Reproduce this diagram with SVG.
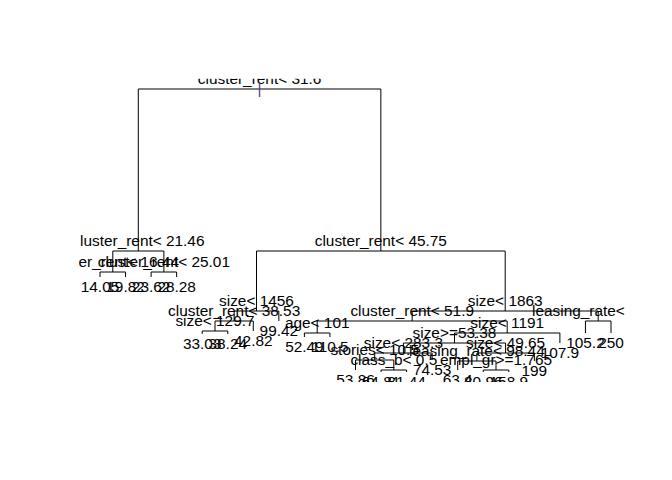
<svg xmlns="http://www.w3.org/2000/svg" width="672" height="480" viewBox="0 0 672 480">
<defs>
<clipPath id="plot"><rect x="78.7" y="78.7" width="553" height="303.4"/></clipPath>
</defs>
<style>
text{font-family:"Liberation Sans",Arial,sans-serif;font-size:15.4px;fill:#000;text-anchor:middle}
.e{text-anchor:end}
.s{text-anchor:start}
.br{fill:none;stroke:#000;stroke-width:1}
.mk{fill:#4a3c8c}
</style>
<rect width="672" height="480" fill="#fff"/>
<g id="connectors" class="br">
<path d="M138.3 251V89H380.85V251"/>
<path d="M112.8 272V251H163.9V272"/>
<path d="M100 277V272H125.55V277"/>
<path d="M151.1 277V272H176.65V277"/>
<path d="M256.5 311V251H505.2V311"/>
<path d="M234.15 321V311H278.85V321"/>
<path d="M215 331V321H253.3V331"/>
<path d="M202.2 334V331H227.75V334"/>
<path d="M412.2 321V311H598.2V321"/>
<path d="M317.2 333V321H507.2V333"/>
<path d="M304.4 337V333H329.95V337"/>
<path d="M585.45 333V321H611V333"/>
<path d="M454.5 343V333H559.9V343"/>
<path d="M403.4 353V343H505.6V353"/>
<path d="M374.7 360V353H432.15V360"/>
<path d="M355.5 370V360H393.8V370"/>
<path d="M381.05 372V370H406.6V372"/>
<path d="M476.9 361V353H534.35V361"/>
<path d="M457.7 370V361H496V370"/>
<path d="M483.25 372V370H508.8V372"/>
</g>
<g clip-path="url(#plot)">
<g id="n1"><text x="259.6" y="84">cluster_rent&lt; 31.6</text><text class="mk" x="259.6" y="94">|</text></g>
<g id="n2"><text class="e" x="204.5" y="246">luster_rent&lt; 21.46</text></g>
<g id="n3"><text x="380.85" y="246">cluster_rent&lt; 45.75</text></g>
<g id="n4"><text class="e" x="179" y="267">er_rent&lt; 16.44</text></g>
<g id="n5"><text x="163.9" y="267">cluster_rent&lt; 25.01</text></g>
<g id="n6"><text x="256.5" y="306">size&lt; 1456</text></g>
<g id="n7"><text x="505.2" y="306">size&lt; 1863</text></g>
<g id="n12"><text x="234.15" y="316">cluster_rent&lt; 38.53</text></g>
<g id="n14"><text x="412.2" y="316">cluster_rent&lt; 51.9</text></g>
<g id="n15"><text class="s" x="532" y="316">leasing_rate&lt;</text></g>
<g id="n24"><text x="215" y="326">size&lt; 129.7</text></g>
<g id="n28"><text x="317.2" y="328">age&lt; 101</text></g>
<g id="n29"><text x="507.2" y="328">size&lt; 1191</text></g>
<g id="n58"><text x="454.5" y="338">size&gt;=53.38</text></g>
<g id="n116"><text x="403.4" y="348">size&lt; 283.3</text></g>
<g id="n117"><text x="505.6" y="348">size&lt; 49.65</text></g>
<g id="n232"><text x="374.7" y="355">stories&lt; 10.5</text></g>
<g id="n234"><text x="476.9" y="356">leasing_rate&lt; 98.44</text></g>
<g id="n465"><text x="393.8" y="365">class_b&lt; 0.5</text></g>
<g id="n469"><text x="496" y="365">empl_gr&gt;=1.765</text></g>
<g id="leaf1"><text x="100" y="292">14.05</text></g>
<g id="leaf2"><text x="125.55" y="292">19.82</text></g>
<g id="leaf3"><text x="151.1" y="292">23.62</text></g>
<g id="leaf4"><text x="176.65" y="292">28.28</text></g>
<g id="leaf5"><text x="202.2" y="349">33.03</text></g>
<g id="leaf6"><text x="227.75" y="349">38.24</text></g>
<g id="leaf7"><text x="253.3" y="346">42.82</text></g>
<g id="leaf8"><text x="278.85" y="336">99.42</text></g>
<g id="leaf9"><text x="304.4" y="352">52.49</text></g>
<g id="leaf10"><text x="329.95" y="352">110.5</text></g>
<g id="leaf11"><text x="355.5" y="385">53.86</text></g>
<g id="leaf12"><text x="381.05" y="387">64.81</text></g>
<g id="leaf13"><text x="406.6" y="387">81.44</text></g>
<g id="leaf14"><text x="432.15" y="375">74.53</text></g>
<g id="leaf15"><text x="457.7" y="385">63.4</text></g>
<g id="leaf16"><text x="483.25" y="387">80.96</text></g>
<g id="leaf17"><text x="508.8" y="387">158.9</text></g>
<g id="leaf18"><text x="534.35" y="376">199</text></g>
<g id="leaf19"><text x="559.9" y="358">107.9</text></g>
<g id="leaf20"><text x="585.45" y="348">105.2</text></g>
<g id="leaf21"><text x="611" y="348">250</text></g>
</g>
</svg>
